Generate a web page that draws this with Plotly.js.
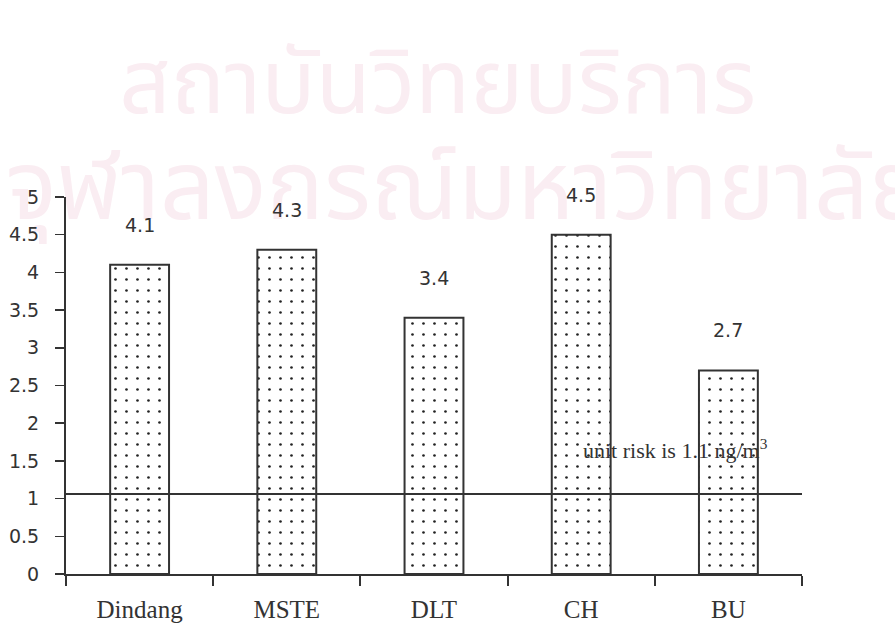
<!DOCTYPE html>
<html>
<head>
<meta charset="utf-8">
<script src="https://cdn.plot.ly/plotly-3.0.1.min.js"></script>
<style>html,body{margin:0;padding:0;background:#fff;}#chart{width:895px;height:625px;}</style>
</head>
<body>
<div id="chart"></div>
<script>
// ---- data ----
const categories = ["Dindang", "MSTE", "DLT", "CH", "BU"];
const values = [4.1, 4.3, 3.4, 4.5, 2.7];
const valueLabels = ["4.1", "4.3", "3.4", "4.5", "2.7"];
const unitRisk = 1.06;
const unitRiskLabel = "unit risk is 1.1 ng/m<sup>3</sup>";
const yTickValues = [0, 0.5, 1, 1.5, 2, 2.5, 3, 3.5, 4, 4.5, 5];
const watermarkLines = ["สถาบันวิทยบริการ", "จุฬาลงกรณ์มหาวิทยาลัย"];

const ink = "#333";
const sansFont = "DejaVu Sans, sans-serif";
const serifFont = "Liberation Serif, DejaVu Serif, serif";
const thaiFont = "Noto Sans Thai, Loma, Garuda, Noto Sans, sans-serif";
const pink = "#faedf2";

const trace = {
  type: "bar",
  x: categories,
  y: values,
  width: 0.4,
  marker: {
    color: "#ffffff",
    line: {color: ink, width: 2},
    pattern: {shape: ".", size: 11, solidity: 0.045, fgcolor: "#222", bgcolor: "#ffffff", fillmode: "replace"}
  },
  hoverinfo: "skip"
};

const annotations = categories.map((c, i) => ({
  x: c, y: values[i], xref: "x", yref: "y",
  text: valueLabels[i], showarrow: false,
  yanchor: "middle", yshift: 40,
  font: {family: sansFont, size: 19, color: ink}
}));
annotations.push({
  x: 3, y: unitRisk, xref: "x", yref: "y",
  text: unitRiskLabel, showarrow: false,
  xanchor: "left", yanchor: "middle", yshift: 45,
  font: {family: serifFont, size: 22, color: ink}
});

const shapes = [
  // watermark (drawn below everything)
  {type: "rect", xref: "paper", yref: "paper", x0: -0.09, x1: 1.1, y0: 1.16, y1: 1.40,
   line: {width: 0}, fillcolor: "rgba(0,0,0,0)", layer: "below",
   label: {text: watermarkLines[0], textposition: "middle center",
           font: {family: thaiFont, size: 90, color: pink}}},
  {type: "rect", xref: "paper", yref: "paper", x0: -0.09, x1: 1.13, y0: 0.89, y1: 1.12,
   line: {width: 0}, fillcolor: "rgba(0,0,0,0)", layer: "below",
   label: {text: watermarkLines[1], textposition: "middle left",
           font: {family: thaiFont, size: 96, color: pink}}},
  // unit risk line
  {type: "line", xref: "paper", yref: "y", x0: 0, x1: 1, y0: unitRisk, y1: unitRisk,
   line: {color: ink, width: 2}}
];

const layout = {
  width: 895, height: 625,
  margin: {l: 66, r: 93, t: 197, b: 51},
  paper_bgcolor: "#ffffff", plot_bgcolor: "rgba(0,0,0,0)",
  showlegend: false,
  xaxis: {
    type: "category", range: [-0.5, 4.5],
    showline: true, linecolor: ink, linewidth: 2,
    ticks: "outside", tickson: "boundaries", ticklen: 10, tickwidth: 2, tickcolor: ink,
    showgrid: false, zeroline: false,
    tickfont: {family: serifFont, size: 25, color: ink},
    ticklabelstandoff: 12
  },
  yaxis: {
    range: [0, 5], tickvals: yTickValues,
    showline: true, linecolor: ink, linewidth: 2,
    ticks: "outside", ticklen: 9, tickwidth: 1.5, tickcolor: ink,
    showgrid: false, zeroline: false,
    tickfont: {family: sansFont, size: 19, color: ink},
    ticklabelstandoff: 12
  },
  annotations: annotations,
  shapes: shapes
};

Plotly.newPlot("chart", [trace], layout, {staticPlot: true, displayModeBar: false});
</script>
</body>
</html>
